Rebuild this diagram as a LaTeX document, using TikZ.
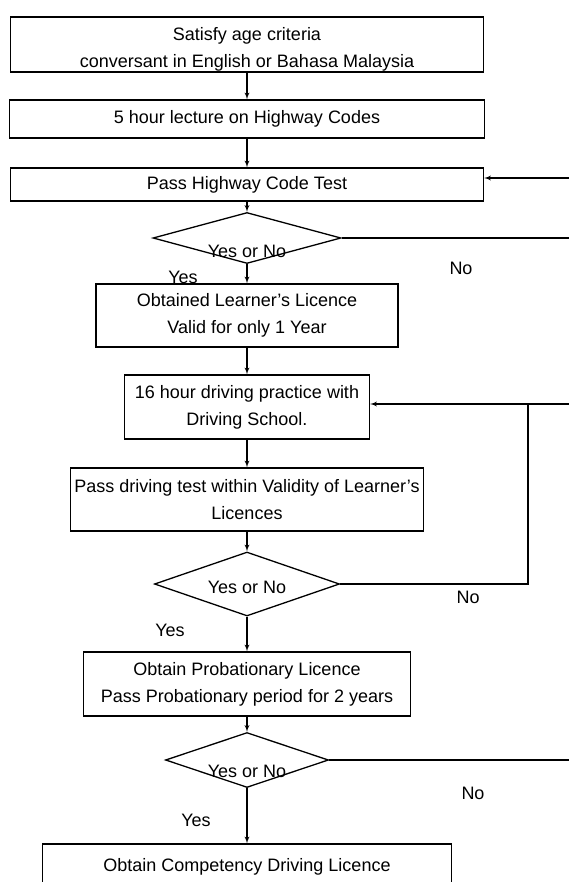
\documentclass[tikz,border=0pt]{standalone}
\usepackage{fontspec}
\setmainfont{Liberation Sans}
\usepackage{tikz}
\usetikzlibrary{arrows}
\usetikzlibrary{positioning}
\usetikzlibrary{shapes.geometric}
\tikzstyle{every node}+=[inner sep=0pt]
\tikzstyle{block} = [rectangle, draw, line width=1.3pt, font=\fontsize{18}{27}\selectfont, align=center, text centered]
\tikzstyle{decision} = [diamond, draw, aspect=3, line width=1.3pt, font=\fontsize{18}{27}\selectfont]
\tikzstyle{line} = [draw, line width=1.3pt, -latex']
\tikzstyle{answer} = [font=\fontsize{18}{27}\selectfont]

\begin{document}
\begin{tikzpicture}[x=1pt, y=1pt, node distance=70pt, auto]
            \useasboundingbox (0,0) rectangle (568,-882);
            % Place nodes
            \node [block, minimum width=473pt, minimum height=55pt] (n1) at (247,-44.5) {\raisebox{-8pt}[0pt][0pt]{\begin{tabular}{@{}c@{}}Satisfy age criteria\\conversant in English or Bahasa Malaysia\end{tabular}}};
            \node [block, below of=n1, node distance=74.5pt, minimum width=475pt, minimum height=38pt] (n2) {5 hour lecture on Highway Codes};
            \node [block, below of=n2, node distance=65.5pt, minimum width=473pt, minimum height=33pt] (n3) {Pass Highway Code Test};
            \node [decision, below of=n3, node distance=53.5pt, minimum width=188pt, minimum height=51pt] (d1) {\raisebox{-20pt}[0pt][0pt]{Yes or No}};
            \node [answer, right of=d1, node distance=214pt, yshift=-30pt] (no1) {No};
            \node [answer, left of=d1, node distance=64pt, yshift=-39pt] (yes1) {Yes};
            \node [block, below of=d1, node distance=77.5pt, minimum width=302pt, minimum height=63pt] (n4) {Obtained Learner's Licence\\Valid for only 1 Year};
            \node [block, below of=n4, node distance=91.5pt, minimum width=245pt, minimum height=64pt] (n5) {16 hour driving practice with\\Driving School.};
            \node [block, below of=n5, node distance=92.5pt, minimum width=353pt, minimum height=63pt] (n6) {Pass driving test within Validity of Learner's\\Licences};
            \node [decision, below of=n6, node distance=84.5pt, minimum width=185pt, minimum height=64pt] (d2) {\raisebox{-9.5pt}[0pt][0pt]{Yes or No}};
            \node [answer, right of=d2, node distance=221pt, yshift=-13pt] (no2) {No};
            \node [answer, left of=d2, node distance=77pt, yshift=-46pt] (yes2) {Yes};
            \node [block, below of=d2, node distance=100pt, minimum width=327pt, minimum height=64pt] (n7) {Obtain Probationary Licence\\Pass Probationary period for 2 years};
            \node [decision, below of=n7, node distance=76pt, minimum width=163pt, minimum height=55pt] (d3) {\raisebox{-17.5pt}[0pt][0pt]{Yes or No}};
            \node [answer, right of=d3, node distance=226pt, yshift=-33pt] (no3) {No};
            \node [answer, left of=d3, node distance=51pt, yshift=-60pt] (yes3) {Yes};
            \node [block, below of=d3, node distance=107pt, minimum width=409pt, minimum height=46pt] (n8) {Obtain Competency Driving Licence};
            % Return points
            \coordinate (r1) at (590,0);
            \coordinate (r2) at (528,0);
            \coordinate (in3) at ([yshift=6.5pt]n3.east);
            \coordinate (in5) at ([yshift=3pt]n5.east);
            % Draw edges
            \path [line] (n1) -- (n2);
            \path [line] (n2) -- (n3);
            \path [line] (n3) -- (d1);
            \path [line] (d1) -- (n4);
            \path [line] (n4) -- (n5);
            \path [line] (n5) -- (n6);
            \path [line] (n6) -- (d2);
            \path [line] (d2) -- (n7);
            \path [line] (n7) -- (d3);
            \path [line] (d3) -- (n8);
            \path [line] (d1.east) -- (d1.east -| r1) |- (in3);
            \path [line] (d2.east) -- (d2.east -| r2) |- (in5);
            \path [line, -] (d3.east) -- (d3.east -| r1) |- (in5 -| r2);
          \end{tikzpicture}
\end{document}
